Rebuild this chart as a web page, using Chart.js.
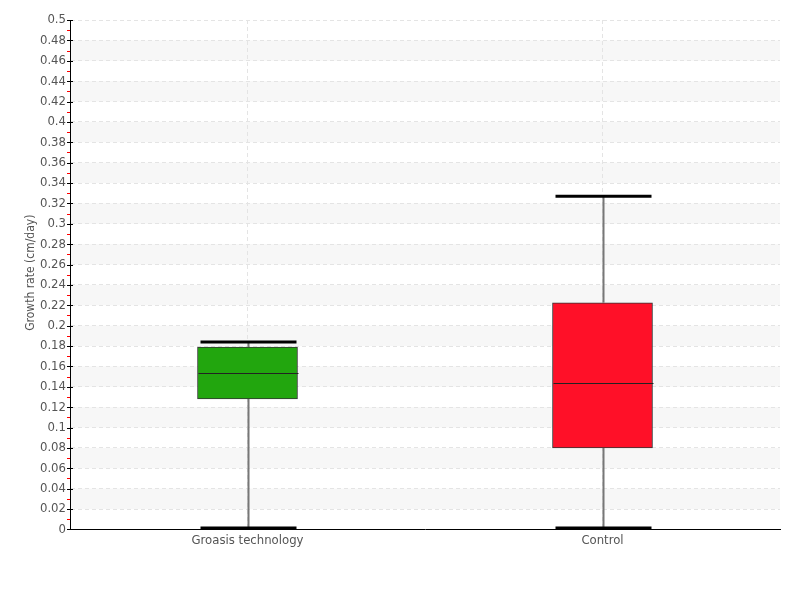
<!DOCTYPE html>
<html>
<head>
<meta charset="utf-8">
<script src="https://cdn.jsdelivr.net/npm/chart.js@4"></script>
<style>
html,body{margin:0;padding:0;background:#fff;}
#wrap{width:800px;height:600px;}
</style>
</head>
<body>
<div id="wrap"><canvas id="c" width="800" height="600"></canvas></div>
<script>
const categories = ['Groasis technology', 'Control'];
const whiskerLow = [0, 0];
const q1 = [0.128, 0.080];
const median = [0.154, 0.144];
const q3 = [0.179, 0.2225];
const whiskerHigh = [0.184, 0.327];
const boxColors = ['#22a60e', '#ff1028'];
const yTitle = 'Growth rate (cm/day)';

const FONT = "'DejaVu Sans Condensed', 'Liberation Sans Narrow', sans-serif";

const bandsPlugin = {
  id: 'bands',
  beforeDraw(chart) {
    const {ctx, chartArea, scales} = chart;
    const y = scales.y;
    ctx.save();
    ctx.fillStyle = '#f7f7f7';
    for (let i = 1; i < 25; i += 2) {
      const lo = i * 0.02, hi = (i + 1) * 0.02;
      const yt = y.getPixelForValue(hi), yb = y.getPixelForValue(lo);
      ctx.fillRect(chartArea.left, yt, chartArea.right - chartArea.left, yb - yt);
    }
    ctx.restore();
  }
};

const boxPlugin = {
  id: 'boxes',
  afterDatasetsDraw(chart) {
    const {ctx, scales} = chart;
    const y = scales.y;
    const meta = chart.getDatasetMeta(0);
    ctx.save();
    meta.data.forEach((bar, i) => {
      const x = Math.round(bar.x) + 0.5;
      const half = bar.width / 2;
      const yLow = y.getPixelForValue(whiskerLow[i]) - 1.5;
      const yHigh = y.getPixelForValue(whiskerHigh[i]);
      const yQ1 = y.getPixelForValue(q1[i]);
      const yQ3 = y.getPixelForValue(q3[i]);
      const yMed = y.getPixelForValue(median[i]);
      ctx.strokeStyle = '#777';
      ctx.lineWidth = 2;
      ctx.beginPath();
      ctx.moveTo(x, yQ3); ctx.lineTo(x, yHigh);
      ctx.moveTo(x, yQ1); ctx.lineTo(x, yLow);
      ctx.stroke();
      ctx.strokeStyle = '#000';
      ctx.lineWidth = 3;
      ctx.beginPath();
      ctx.moveTo(x - half + 2, yHigh); ctx.lineTo(x + half - 2, yHigh);
      ctx.moveTo(x - half + 2, yLow); ctx.lineTo(x + half - 2, yLow);
      ctx.stroke();
      ctx.strokeStyle = '#222';
      ctx.lineWidth = 1;
      ctx.beginPath();
      ctx.moveTo(x - half, Math.round(yMed) + 0.5); ctx.lineTo(x + half, Math.round(yMed) + 0.5);
      ctx.stroke();
    });
    ctx.restore();
  }
};

const ticksPlugin = {
  id: 'yticks',
  afterDraw(chart) {
    const {ctx, chartArea, scales} = chart;
    const y = scales.y;
    const x0 = Math.round(chartArea.left);
    ctx.save();
    ctx.lineWidth = 1;
    for (let i = 0; i <= 50; i++) {
      const v = i * 0.01;
      const py = Math.round(y.getPixelForValue(v)) + 0.5;
      if (i % 2 === 0) {
        ctx.strokeStyle = '#000';
        ctx.beginPath(); ctx.moveTo(x0 - 3, py); ctx.lineTo(x0 + 3, py); ctx.stroke();
      } else {
        ctx.strokeStyle = '#ff0000';
        ctx.beginPath(); ctx.moveTo(x0 - 3, py); ctx.lineTo(x0, py); ctx.stroke();
      }
    }
    ctx.restore();
  }
};

new Chart(document.getElementById('c'), {
  type: 'bar',
  data: {
    labels: categories,
    datasets: [{
      data: categories.map((c, i) => [q1[i], q3[i]]),
      backgroundColor: boxColors,
      borderColor: '#333',
      borderWidth: 1,
      borderSkipped: false,
      barThickness: 100
    }]
  },
  options: {
    responsive: false,
    animation: false,
    layout: {padding: {left: 24, right: 20, top: 20, bottom: 49}},
    plugins: {legend: {display: false}, tooltip: {enabled: false}},
    scales: {
      x: {
        grid: {offset: false, color: '#e4e4e4', drawTicks: false},
        border: {color: '#000', width: 1, dash: [4, 3]},
        ticks: {color: '#555', font: {family: FONT, size: 13}, padding: 3}
      },
      y: {
        min: 0, max: 0.5,
        afterFit: s => { s.width = 46; },
        grid: {color: '#e4e4e4', drawTicks: false},
        border: {color: '#000', width: 1, dash: [4, 3]},
        ticks: {stepSize: 0.02, color: '#555', font: {family: FONT, size: 13}, padding: 4,
          callback: v => String(Math.round(v * 100) / 100)},
        title: {display: false, text: yTitle}
      }
    }
  },
  plugins: [bandsPlugin, boxPlugin, ticksPlugin, {
    id: 'ytitle',
    afterDraw(chart) {
      const {ctx, chartArea} = chart;
      ctx.save();
      ctx.translate(31, (chartArea.top + chartArea.bottom) / 2 - 2);
      ctx.rotate(-Math.PI / 2);
      ctx.fillStyle = '#555';
      ctx.font = "12px " + FONT;
      ctx.textAlign = 'center';
      ctx.textBaseline = 'middle';
      ctx.fillText(yTitle, 0, 0);
      ctx.restore();
    }
  }]
});
</script>
</body>
</html>
